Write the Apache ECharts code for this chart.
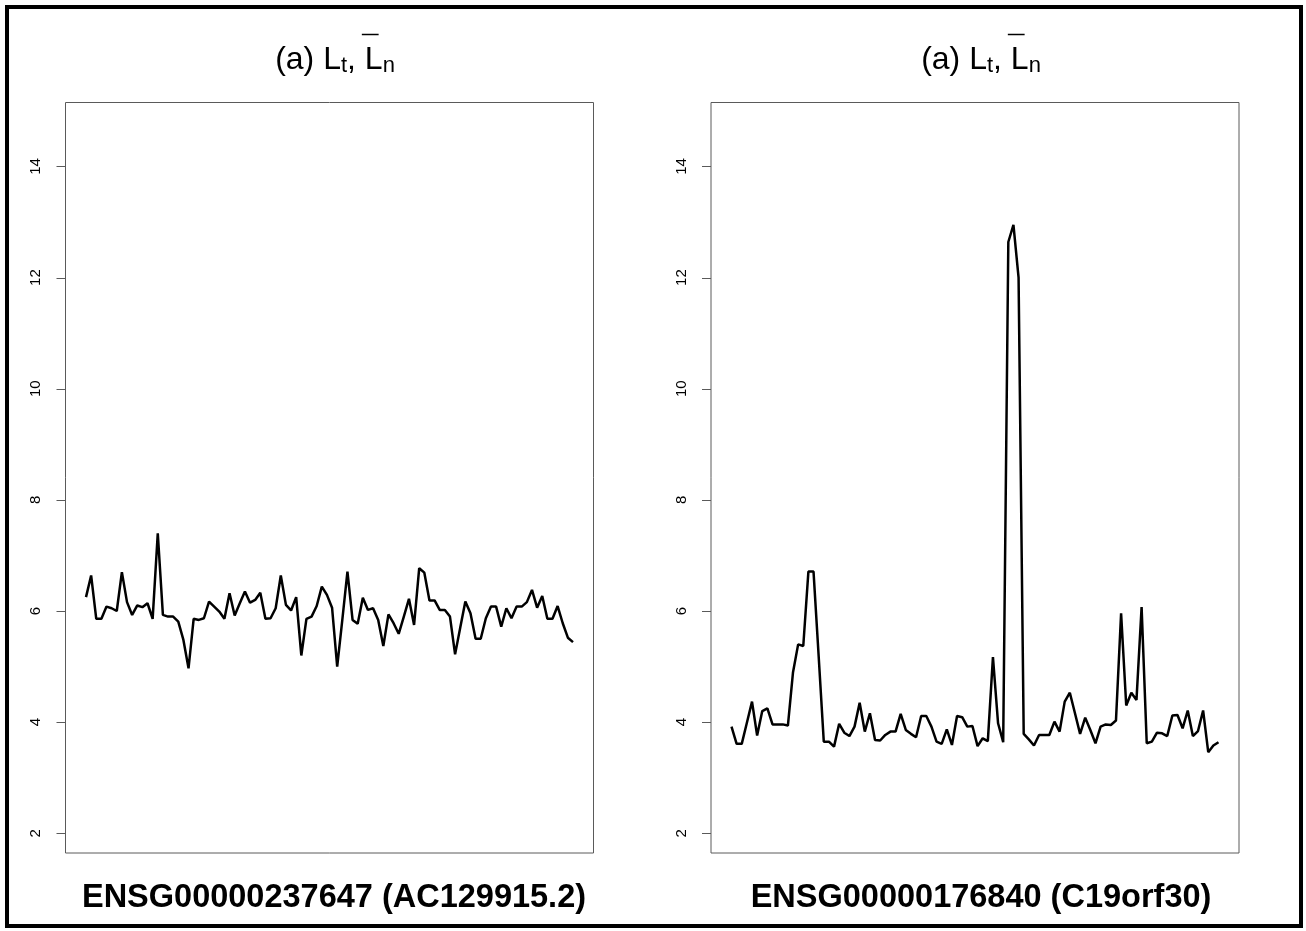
<!DOCTYPE html>
<html>
<head>
<meta charset="utf-8">
<script src="https://cdn.jsdelivr.net/npm/echarts@6/dist/echarts.min.js"></script>
<style>
html,body{margin:0;padding:0;background:#fff;}
#chart{width:1306px;height:931px;}
</style>
</head>
<body>
<div id="chart"></div>
<script>
// ---- data ----
var yTicks = [2, 4, 6, 8, 10, 12, 14];
var titleLeft = 'ENSG00000237647 (AC129915.2)';
var titleRight = 'ENSG00000176840 (C19orf30)';
var seriesLeft = [
  6.25, 6.64, 5.86, 5.86, 6.08, 6.05, 6.00, 6.70, 6.16, 5.93,
  6.10, 6.07, 6.14, 5.86, 7.40, 5.93, 5.90, 5.90, 5.81, 5.48,
  4.97, 5.86, 5.84, 5.87, 6.17, 6.08, 5.99, 5.86, 6.32, 5.92,
  6.14, 6.35, 6.15, 6.20, 6.33, 5.86, 5.87, 6.05, 6.64, 6.11,
  6.01, 6.25, 5.20, 5.86, 5.90, 6.09, 6.44, 6.29, 6.06, 5.00,
  5.84, 6.71, 5.84, 5.77, 6.24, 6.02, 6.05, 5.84, 5.37, 5.94,
  5.78, 5.59, 5.90, 6.22, 5.75, 6.77, 6.69, 6.19, 6.19, 6.02,
  6.02, 5.90, 5.22, 5.70, 6.17, 5.96, 5.50, 5.50, 5.87, 6.08,
  6.08, 5.72, 6.05, 5.87, 6.08, 6.08, 6.16, 6.38, 6.06, 6.27,
  5.86, 5.86, 6.09, 5.78, 5.52, 5.44
];
var seriesRight = [
  3.92, 3.61, 3.61, 3.99, 4.37, 3.76, 4.20, 4.25, 3.96, 3.96,
  3.96, 3.94, 4.90, 5.40, 5.37, 6.71, 6.71, 5.19, 3.65, 3.65,
  3.56, 3.97, 3.81, 3.75, 3.92, 4.35, 3.83, 4.16, 3.68, 3.67,
  3.77, 3.83, 3.83, 4.15, 3.86, 3.79, 3.73, 4.11, 4.11, 3.92,
  3.65, 3.61, 3.87, 3.59, 4.11, 4.09, 3.92, 3.93, 3.57, 3.71,
  3.66, 5.17, 3.98, 3.64, 12.64, 12.95, 12.00, 3.79, 3.69, 3.58,
  3.77, 3.77, 3.77, 4.01, 3.83, 4.37, 4.53, 4.16, 3.79, 4.08,
  3.86, 3.62, 3.92, 3.96, 3.95, 4.03, 5.96, 4.30, 4.53, 4.40,
  6.07, 3.62, 3.65, 3.81, 3.80, 3.75, 4.12, 4.13, 3.89, 4.21,
  3.75, 3.84, 4.21, 3.46, 3.58, 3.64
];

var n = seriesLeft.length;
// sample index labels for the (hidden) category x axis
var xCats = seriesLeft.map(function (v, i) { return String(i + 1); });
var xPad = (n - 1) * 0.04;
var yMin = 1.646, yMax = 15.15;
var boxColor = '#5a5a5a';
var font = '"Liberation Sans", Arial, sans-serif';
var gridLefts = [65.5, 711];
var tickLen = 9;

function xAxisDef(idx) {
  return { type: 'category', gridIndex: idx, data: xCats, boundaryGap: false, min: -xPad, max: (n - 1) + xPad, show: false };
}
function yAxisDef(idx) {
  return {
    type: 'value', gridIndex: idx, min: yMin, max: yMax, position: 'left',
    splitLine: { show: false },
    axisLine: { show: false },
    axisTick: { show: false },
    axisLabel: { show: true, customValues: yTicks, rotate: 90, margin: 22, fontSize: 15, color: '#000', fontFamily: font }
  };
}

var baseSize = 32, subSize = 22;
var richTitle = {
  base: { fontSize: baseSize, fontWeight: 'normal', fontFamily: font, color: '#000' },
  sub: { fontSize: subSize, fontWeight: 'normal', fontFamily: font, color: '#000', verticalAlign: 'bottom', padding: [12, 0, 0, 0] }
};

var chart = echarts.init(document.getElementById('chart'), null, { renderer: 'canvas' });
var titleTop = 38;
var option = {
  backgroundColor: '#fff',
  animation: false,
  title: [
    { text: '{base|(a) L}{sub|t}{base|, L}{sub|n}', left: 330, top: titleTop, textAlign: 'center', textStyle: { fontWeight: 'normal', rich: richTitle } },
    { text: '{base|(a) L}{sub|t}{base|, L}{sub|n}', left: 976, top: titleTop, textAlign: 'center', textStyle: { fontWeight: 'normal', rich: richTitle } },
    { text: titleLeft, left: 329, top: 877, textAlign: 'center', textStyle: { fontSize: 32.5, fontWeight: 'bold', fontFamily: font, color: '#000' } },
    { text: titleRight, left: 976, top: 877, textAlign: 'center', textStyle: { fontSize: 32.5, fontWeight: 'bold', fontFamily: font, color: '#000' } }
  ],
  grid: [
    { left: gridLefts[0], top: 102.5, width: 528, height: 750.5, show: true, borderColor: boxColor, borderWidth: 1, backgroundColor: 'transparent' },
    { left: gridLefts[1], top: 102.5, width: 528, height: 750.5, show: true, borderColor: boxColor, borderWidth: 1, backgroundColor: 'transparent' }
  ],
  xAxis: [xAxisDef(0), xAxisDef(1)],
  yAxis: [yAxisDef(0), yAxisDef(1)],
  series: [
    { type: 'line', xAxisIndex: 0, yAxisIndex: 0, data: seriesLeft, symbol: 'none', lineStyle: { color: '#000', width: 2.5 } },
    { type: 'line', xAxisIndex: 1, yAxisIndex: 1, data: seriesRight, symbol: 'none', lineStyle: { color: '#000', width: 2.5 } }
  ],
  graphic: [
    { type: 'rect', shape: { x: 7, y: 7, width: 1294, height: 919 }, style: { fill: 'none', stroke: '#000', lineWidth: 4 }, silent: true }
  ]
};
chart.setOption(option);

(function () {
  var g = option.graphic.slice();
  // y-axis tick marks, positioned through the chart's own y scale
  [0, 1].forEach(function (idx) {
    yTicks.forEach(function (v) {
      var py = Math.round(chart.convertToPixel({ yAxisIndex: idx }, v)) + 0.5;
      var x0 = gridLefts[idx];
      g.push({ type: 'line', shape: { x1: x0 - tickLen, y1: py, x2: x0, y2: py }, style: { stroke: boxColor, lineWidth: 1 }, silent: true });
    });
  });
  // overline bars above the second "L" of each title, measured from the rendered text
  var ctx = document.createElement('canvas').getContext('2d');
  function w(t, size) { ctx.font = size + 'px ' + font; return ctx.measureText(t).width; }
  var total = w('(a) L', baseSize) + w('t', subSize) + w(', L', baseSize) + w('n', subSize);
  var before = w('(a) L', baseSize) + w('t', subSize) + w(', ', baseSize);
  var lw = w('L', baseSize);
  [330, 976].forEach(function (c) {
    var x0 = c - total / 2 + before;
    g.push({ type: 'line', shape: { x1: x0 + 2, y1: 34.5, x2: x0 + lw + 1, y2: 34.5 }, style: { stroke: '#000', lineWidth: 1.5 }, silent: true });
  });
  chart.setOption({ graphic: g });
})();
</script>
</body>
</html>
